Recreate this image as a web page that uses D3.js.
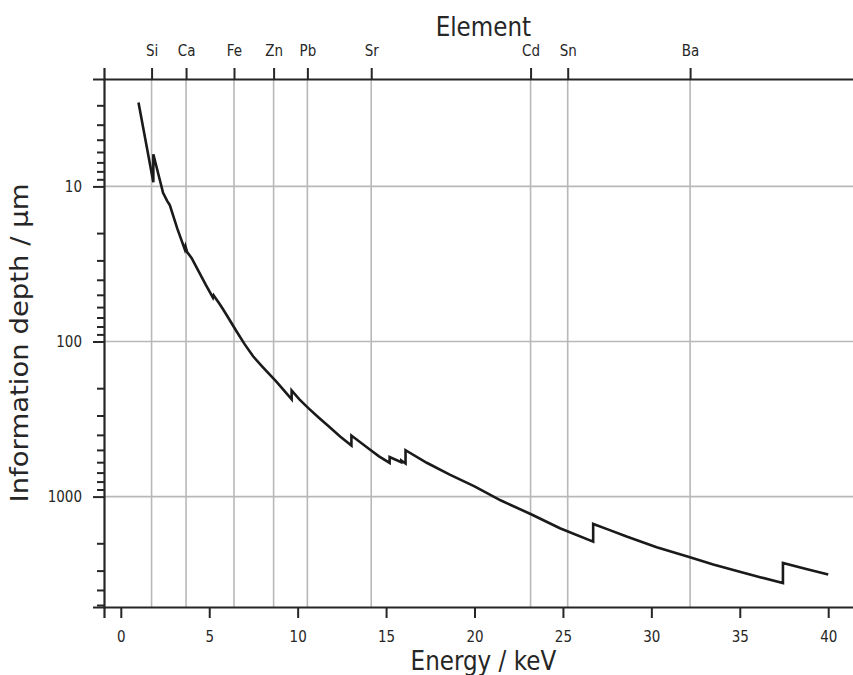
<!DOCTYPE html>
<html>
<head>
<meta charset="utf-8">
<script src="https://cdn.jsdelivr.net/npm/d3@7"></script>
<style>
  body { margin: 0; background: #fff; }
  svg { display: block; }
  text { font-family: "DejaVu Sans", sans-serif; fill: #262626; }
</style>
</head>
<body>
<svg id="chart" width="853" height="675"></svg>
<script>
// energy (keV) and information depth (µm); repeated energies are absorption edges
const energy = [1.0, 1.84, 1.84, 2.39, 2.62, 2.77, 3.2, 3.62, 3.66, 3.75, 4.0, 4.5, 4.8, 5.21, 5.25, 5.55, 5.79,
  6.0, 6.54, 7.0, 7.48, 8.0, 8.81, 9.2, 9.66, 9.66, 10.1, 10.59, 11.2, 11.8, 12.4, 13.04, 13.04,
  14.08, 14.6, 15.2, 15.2, 15.86, 15.86, 16.1, 16.1, 17.3, 18.6, 20.0, 21.5, 23.2, 24.83, 26.71, 26.71,
  27.5, 28.6, 30.3, 32.09, 33.5, 35.0, 36.2, 37.44, 37.44, 38.7, 40.0];
const depth = [2.88, 9.4, 6.2, 11.0, 12.4, 13.2, 18.8, 25.5, 24.4, 26.5, 28.9, 37, 43, 52.2, 50.5, 56.5, 62.2,
  68, 85.9, 104, 124.5, 145, 182, 205, 236, 207, 236, 268, 310, 356, 410, 469, 404,
  497, 550, 607, 555, 600, 585, 612, 502, 605, 721, 860, 1060, 1300, 1600, 1950, 1500,
  1620, 1810, 2120, 2440, 2740, 3050, 3320, 3610, 2680, 2920, 3184];

// element lines on the top axis
const elements = ['Si', 'Ca', 'Fe', 'Zn', 'Pb', 'Sr', 'Cd', 'Sn', 'Ba'];
const elementEnergy = [1.74, 3.69, 6.40, 8.64, 10.55, 14.16, 23.17, 25.27, 32.19];

const xTicks = [0, 5, 10, 15, 20, 25, 30, 35, 40];
const yTicks = [10, 100, 1000];

const mLeft = 104, mTop = 79, mRight = 862.7, mBottom = 607;
const squeeze = 0.87; // glyphs in the picture are a bit narrow
const svg = d3.select('#chart');

const x = d3.scaleLinear().domain([-0.95, 41.95]).range([mLeft, mRight]);
const y = d3.scaleLog().domain([2.03, 5150]).range([mTop, mBottom]);

// minor ticks on the log axis
let yMinor = [];
[1, 10, 100, 1000].forEach(p => {
  for (let k = 2; k <= 9; k++) {
    const v = k * p;
    if (v >= 2.03 && v <= 5150) yMinor.push(v);
  }
});

svg.append('defs').append('clipPath').attr('id', 'plot')
  .append('rect')
  .attr('x', mLeft).attr('y', mTop)
  .attr('width', mRight - mLeft).attr('height', mBottom - mTop);

const grid = svg.append('g')
  .attr('stroke', '#b8b8b8')
  .attr('stroke-width', 1.6);

grid.selectAll('.vg')
  .data(elementEnergy)
  .join('line')
  .attr('class', 'vg')
  .attr('x1', d => x(d)).attr('x2', d => x(d))
  .attr('y1', mTop).attr('y2', mBottom);

grid.selectAll('.hg')
  .data(yTicks)
  .join('line')
  .attr('class', 'hg')
  .attr('x1', mLeft).attr('x2', mRight)
  .attr('y1', d => y(d)).attr('y2', d => y(d));

const line = d3.line()
  .x((d, i) => x(energy[i]))
  .y((d, i) => y(depth[i]));

svg.append('path')
  .datum(depth)
  .attr('clip-path', 'url(#plot)')
  .attr('d', line)
  .attr('fill', 'none')
  .attr('stroke', '#1a1a1a')
  .attr('stroke-width', 2.6)
  .attr('stroke-linejoin', 'miter');

// axes
const xAxis = svg.append('g')
  .attr('transform', `translate(0,${mBottom})`)
  .call(d3.axisBottom(x).tickValues(xTicks).tickSize(11).tickPadding(13).tickFormat(d3.format('d')));

const topAxis = svg.append('g')
  .attr('transform', `translate(0,${mTop})`)
  .call(d3.axisTop(x).tickValues(elementEnergy).tickSize(11).tickPadding(12)
    .tickFormat((d, i) => elements[i]));

const yAxis = svg.append('g')
  .attr('transform', `translate(${mLeft},0)`)
  .call(d3.axisLeft(y).tickValues(yTicks).tickSize(11).tickPadding(12).tickFormat(d3.format('d')));

svg.append('g')
  .attr('transform', `translate(${mLeft},0)`)
  .call(d3.axisLeft(y).tickValues(yMinor).tickSize(7).tickFormat(''))
  .select('.domain').remove();

[xAxis, topAxis, yAxis].forEach(g => {
  g.selectAll('.domain').attr('stroke', '#262626').attr('stroke-width', 2.2);
  g.selectAll('.tick text')
    .style('font-size', '15.5px')
    .style('fill', '#262626')
    .attr('transform', `scale(${squeeze},1)`);
});
yAxis.selectAll('.tick text').attr('x', -22 / squeeze);
svg.selectAll('.tick line').attr('stroke', '#262626').attr('stroke-width', 2);

// axis titles
const cx = (mLeft + mRight) / 2;
svg.append('text')
  .attr('transform', `translate(${cx},35.5) scale(${squeeze},1)`)
  .attr('text-anchor', 'middle')
  .style('font-size', '26.5px')
  .text('Element');

svg.append('text')
  .attr('transform', `translate(${cx},670) scale(${squeeze},1)`)
  .attr('text-anchor', 'middle')
  .style('font-size', '26.5px')
  .text('Energy / keV');

svg.append('text')
  .attr('transform', `translate(28,${(mTop + mBottom) / 2}) scale(${squeeze},1) rotate(-90)`)
  .attr('text-anchor', 'middle')
  .style('font-size', '27.5px')
  .text('Information depth / µm');
</script>
</body>
</html>
